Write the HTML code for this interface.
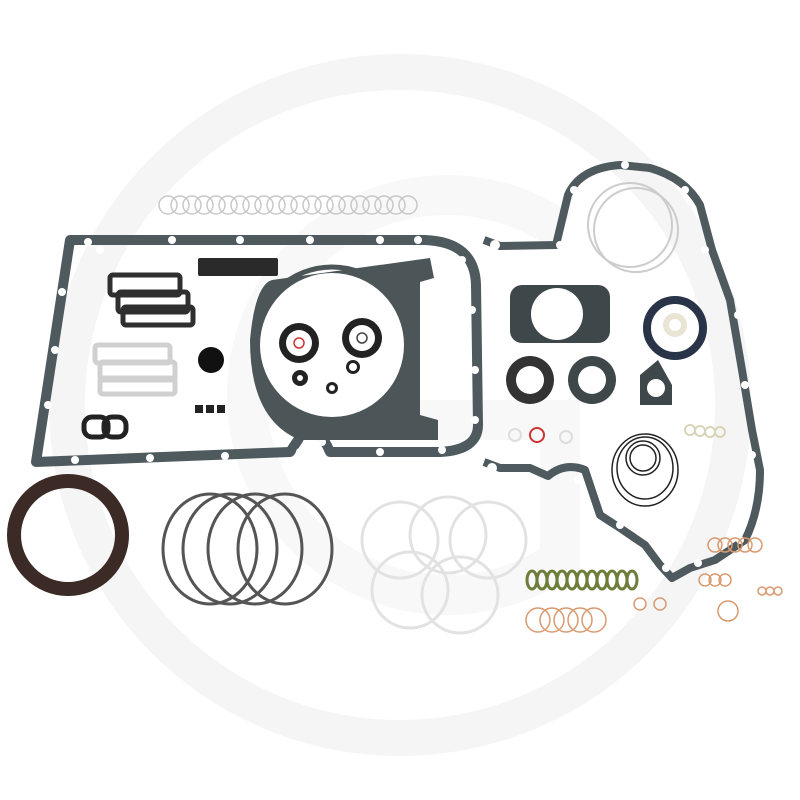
<!DOCTYPE html>
<html><head><style>html,body{margin:0;padding:0;background:#fff}svg{display:block}</style></head><body>
<svg width="800" height="800" viewBox="0 0 800 800" xmlns="http://www.w3.org/2000/svg">
<rect width="800" height="800" fill="#fff"/>
<circle cx="400" cy="405" r="333" fill="none" stroke="#f5f5f5" stroke-width="36"/>
<path d="M560 230 A200 200 0 1 0 560 560 L560 420 L420 420" fill="none" stroke="#f8f8f8" stroke-width="40"/>
<g fill="none" stroke="#c8c8c8" stroke-width="1.5">
<circle cx="168" cy="205" r="9"/><circle cx="180" cy="205" r="9"/><circle cx="192" cy="205" r="9"/><circle cx="204" cy="205" r="9"/><circle cx="216" cy="205" r="9"/><circle cx="228" cy="205" r="9"/><circle cx="240" cy="205" r="9"/><circle cx="252" cy="205" r="9"/><circle cx="264" cy="205" r="9"/><circle cx="276" cy="205" r="9"/><circle cx="288" cy="205" r="9"/><circle cx="300" cy="205" r="9"/><circle cx="312" cy="205" r="9"/><circle cx="324" cy="205" r="9"/><circle cx="336" cy="205" r="9"/><circle cx="348" cy="205" r="9"/><circle cx="360" cy="205" r="9"/><circle cx="372" cy="205" r="9"/><circle cx="384" cy="205" r="9"/><circle cx="396" cy="205" r="9"/><circle cx="408" cy="205" r="9"/>
</g>
<path d="M70 240 L425 240 Q475 242 476 285 L478 425 Q478 450 440 452 L330 452 Q325 440 318 432 Q305 425 298 440 L290 452 L36 462 Z" fill="none" stroke="#4f5a5e" stroke-width="10" stroke-linejoin="round"/>
<g fill="#fff">
<circle cx="88" cy="242" r="4"/><circle cx="100" cy="250" r="4"/><circle cx="172" cy="240" r="4"/><circle cx="240" cy="240" r="4"/><circle cx="310" cy="240" r="4"/><circle cx="380" cy="240" r="4"/><circle cx="418" cy="240" r="4"/><circle cx="462" cy="260" r="4"/><circle cx="472" cy="310" r="4"/><circle cx="475" cy="370" r="4"/><circle cx="475" cy="420" r="4"/><circle cx="442" cy="450" r="4"/><circle cx="380" cy="452" r="4"/><circle cx="322" cy="442" r="4"/><circle cx="300" cy="452" r="4"/><circle cx="225" cy="456" r="4"/><circle cx="150" cy="458" r="4"/><circle cx="75" cy="460" r="4"/><circle cx="62" cy="292" r="4"/><circle cx="55" cy="350" r="4"/><circle cx="48" cy="405" r="4"/>
</g>
<path d="M272 280 L430 258 L434 278 L420 282 L420 415 L438 420 L438 440 L300 440 Q250 420 250 340 Q255 285 272 280 Z" fill="#4c5558"/>
<circle cx="332" cy="345" r="72" fill="#fff"/>
<circle cx="332" cy="345" r="78" fill="none" stroke="#4c5558" stroke-width="5"/>
<g fill="#222"><circle cx="299" cy="343" r="20"/><circle cx="362" cy="338" r="20"/><circle cx="300" cy="378" r="8"/><circle cx="353" cy="367" r="7"/><circle cx="332" cy="388" r="6"/></g>
<g fill="#fff"><circle cx="299" cy="343" r="13"/><circle cx="362" cy="338" r="13"/><circle cx="300" cy="378" r="3"/><circle cx="353" cy="367" r="4"/><circle cx="332" cy="388" r="3"/></g>
<circle cx="299" cy="343" r="5" fill="none" stroke="#c33" stroke-width="1.5"/>
<circle cx="362" cy="338" r="5" fill="none" stroke="#444" stroke-width="1.5"/>
<rect x="198" y="258" width="80" height="18" rx="2" fill="#2a2a2a"/>
<g fill="none" stroke="#2f2f2f" stroke-width="5"><rect x="110" y="275" width="70" height="20" rx="3"/><rect x="118" y="292" width="70" height="20" rx="3"/><rect x="123" y="307" width="70" height="18" rx="3"/></g>
<g fill="none" stroke="#d0d0d0" stroke-width="5"><rect x="95" y="345" width="75" height="18" rx="3"/><rect x="100" y="362" width="75" height="18" rx="3"/><rect x="100" y="378" width="75" height="16" rx="3"/></g>
<circle cx="211" cy="360" r="13" fill="#111"/>
<g fill="#222"><rect x="195" y="405" width="8" height="8"/><rect x="206" y="405" width="8" height="8"/><rect x="217" y="405" width="8" height="8"/></g>
<g fill="none" stroke="#222" stroke-width="5"><rect x="84" y="417" width="24" height="20" rx="8"/><rect x="104" y="417" width="22" height="20" rx="8"/></g>
<circle cx="68" cy="535" r="54" fill="none" stroke="#3b2a26" stroke-width="14"/>
<g fill="none" stroke="#555" stroke-width="3">
<ellipse cx="210" cy="549" rx="47" ry="55"/><ellipse cx="230" cy="549" rx="47" ry="55"/><ellipse cx="255" cy="549" rx="47" ry="55"/><ellipse cx="285" cy="549" rx="47" ry="55"/>
</g>
<g fill="none" stroke="#e2e2e2" stroke-width="3">
<circle cx="400" cy="540" r="38"/><circle cx="448" cy="535" r="38"/><circle cx="488" cy="540" r="38"/><circle cx="410" cy="590" r="38"/><circle cx="460" cy="595" r="38"/>
</g>
<path d="M484 240 L500 246 L556 245 L568 195 Q580 168 620 165 L650 168 Q685 178 700 205 L712 250 L730 300 L742 370 L752 430 L760 470 Q760 510 745 540 L715 560 L690 568 L672 578 L660 565 L645 545 L620 528 L600 515 L585 470 Q565 462 548 476 L530 468 L500 468 L484 462" fill="none" stroke="#4f5a5e" stroke-width="8" stroke-linejoin="round"/>
<g fill="#fff"><circle cx="495" cy="245" r="5"/><circle cx="560" cy="245" r="4"/><circle cx="574" cy="190" r="4"/><circle cx="625" cy="165" r="4"/><circle cx="685" cy="190" r="4"/><circle cx="705" cy="250" r="4"/><circle cx="738" cy="315" r="4"/><circle cx="745" cy="385" r="4"/><circle cx="752" cy="455" r="4"/><circle cx="740" cy="540" r="4"/><circle cx="698" cy="563" r="4"/><circle cx="666" cy="568" r="4"/><circle cx="620" cy="525" r="4"/><circle cx="578" cy="480" r="4"/><circle cx="492" cy="468" r="5"/></g>
<g fill="none" stroke="#ccc" stroke-width="2"><circle cx="630" cy="225" r="42"/><circle cx="636" cy="230" r="42"/></g>
<rect x="510" y="285" width="100" height="58" rx="12" fill="#3e4749"/>
<circle cx="557" cy="314" r="26" fill="#fff"/>
<circle cx="675" cy="328" r="28" fill="none" stroke="#2a3448" stroke-width="8"/>
<circle cx="675" cy="325" r="9" fill="none" stroke="#e9e4d4" stroke-width="6"/>
<circle cx="530" cy="380" r="24" fill="#333"/><circle cx="530" cy="380" r="14" fill="#fff"/>
<circle cx="592" cy="380" r="24" fill="#3e4749"/><circle cx="592" cy="380" r="14" fill="#fff"/>
<path d="M640 375 L658 360 L672 385 L672 405 L640 405 Z" fill="#3e4749"/><circle cx="656" cy="388" r="9" fill="#fff"/>
<g fill="none" stroke="#222" stroke-width="1.5"><ellipse cx="645" cy="470" rx="33" ry="36"/><ellipse cx="645" cy="468" rx="28" ry="31"/><circle cx="643" cy="458" r="17"/><circle cx="643" cy="458" r="13"/></g>
<circle cx="537" cy="435" r="7" fill="none" stroke="#c33" stroke-width="2"/>
<g fill="none" stroke="#ddd" stroke-width="2"><circle cx="515" cy="435" r="6"/><circle cx="566" cy="437" r="6"/></g>
<g fill="none" stroke="#d8d4b8" stroke-width="2"><circle cx="690" cy="430" r="5"/><circle cx="700" cy="431" r="5"/><circle cx="710" cy="432" r="5"/><circle cx="720" cy="432" r="5"/></g>
<g fill="none" stroke="#6d7d3a" stroke-width="3"><ellipse cx="532" cy="580" rx="5" ry="9"/><ellipse cx="542" cy="580" rx="5" ry="9"/><ellipse cx="552" cy="580" rx="5" ry="9"/><ellipse cx="562" cy="580" rx="5" ry="9"/><ellipse cx="572" cy="580" rx="5" ry="9"/><ellipse cx="582" cy="580" rx="5" ry="9"/><ellipse cx="592" cy="580" rx="5" ry="9"/><ellipse cx="602" cy="580" rx="5" ry="9"/><ellipse cx="612" cy="580" rx="5" ry="9"/><ellipse cx="622" cy="580" rx="5" ry="9"/><ellipse cx="632" cy="580" rx="5" ry="9"/></g>
<g fill="none" stroke="#d99a70" stroke-width="1.5">
<circle cx="538" cy="620" r="12"/><circle cx="552" cy="620" r="12"/><circle cx="566" cy="620" r="12"/><circle cx="580" cy="620" r="12"/><circle cx="594" cy="620" r="12"/>
<circle cx="715" cy="545" r="7"/><circle cx="725" cy="545" r="7"/><circle cx="735" cy="545" r="7"/><circle cx="745" cy="545" r="7"/><circle cx="755" cy="545" r="7"/>
<circle cx="705" cy="580" r="6"/><circle cx="715" cy="580" r="6"/><circle cx="725" cy="580" r="6"/>
<circle cx="762" cy="591" r="4"/><circle cx="770" cy="591" r="4"/><circle cx="778" cy="591" r="4"/>
<circle cx="728" cy="611" r="10"/><circle cx="640" cy="604" r="6"/><circle cx="660" cy="604" r="6"/>
</g>
</svg>
</body></html>
